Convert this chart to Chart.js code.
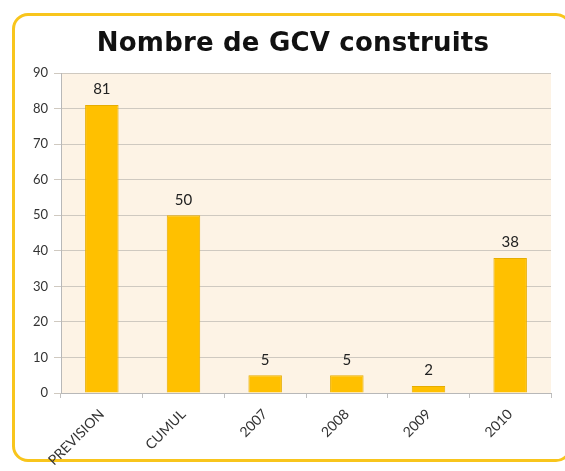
<!DOCTYPE html>
<html>
<head>
<meta charset="utf-8">
<script src="https://cdn.jsdelivr.net/npm/chart.js@4.4.1/dist/chart.umd.min.js"></script>
<style>
  html, body { margin: 0; padding: 0; background: #fff; }
  #wrap { position: relative; width: 565px; height: 471px; }
  #frame {
    position: absolute; left: 12px; top: 13px; width: 560px; height: 449px;
    border: 3px solid #f8c51c; border-radius: 16px; box-sizing: border-box;
  }
  #title {
    position: absolute; left: 0; top: 27px; width: 586px; text-align: center;
    font: bold 26px "DejaVu Sans"; color: #111; letter-spacing: 0.2px;
  }
  canvas { position: absolute; left: 0; top: 0; }
</style>
</head>
<body>
<div id="wrap">
  <div id="frame"></div>
  <canvas id="chart" width="565" height="471"></canvas>
  <div id="title"></div>
</div>
<script>
const categories = ["PREVISION", "CUMUL", "2007", "2008", "2009", "2010"];
const values = [81, 50, 5, 5, 2, 38];
const yTicks = [0, 10, 20, 30, 40, 50, 60, 70, 80, 90];
const title = "Nombre de GCV construits";

document.getElementById("title").textContent = title;

// cream background behind the plot
const plotBg = {
  id: "plotBg",
  beforeDraw(chart) {
    const { ctx, chartArea } = chart;
    ctx.save();
    ctx.fillStyle = "#fdf3e5";
    ctx.fillRect(chartArea.left, chartArea.top, chartArea.right - chartArea.left, chartArea.bottom - chartArea.top);
    ctx.restore();
  }
};

// value above each bar
const barLabels = {
  id: "barLabels",
  afterDatasetsDraw(chart) {
    const { ctx } = chart;
    const meta = chart.getDatasetMeta(0);
    ctx.save();
    ctx.font = "15px Lato";
    ctx.fillStyle = "#222";
    ctx.textAlign = "center";
    ctx.textBaseline = "bottom";
    meta.data.forEach((bar, i) => {
      ctx.fillText(values[i], bar.x, bar.y - 8);
    });
    ctx.restore();
  }
};

new Chart(document.getElementById("chart"), {
  type: "bar",
  data: {
    labels: categories,
    datasets: [{
      label: title,
      data: values,
      backgroundColor: "#ffc000",
      borderColor: "#e6ad00",
      borderWidth: 1,
      barPercentage: 0.41,
      categoryPercentage: 1
    }]
  },
  options: {
    responsive: false,
    animation: false,
    layout: { padding: { left: 0, right: 14, top: 73, bottom: 0 } },
    plugins: {
      legend: { display: false },
      tooltip: { enabled: false },
      title: { display: false }
    },
    scales: {
      x: {
        grid: { drawOnChartArea: false, color: "#c0c0c0", tickLength: 5 },
        border: { color: "#b8b8b8" },
        ticks: {
          color: "#333",
          font: { family: "Lato", size: 14 },
          minRotation: 45,
          maxRotation: 45,
          padding: 8
        },
        afterFit(scale) { scale.height = 78; }
      },
      y: {
        min: 0,
        max: 90,
        afterBuildTicks(scale) { scale.ticks = yTicks.map(v => ({ value: v })); },
        grid: { color: "#cfc9c0", tickLength: 7 },
        border: { color: "#b8b8b8" },
        ticks: {
          color: "#333",
          font: { family: "Lato", size: 13 },
          padding: 6
        },
        afterFit(scale) { scale.width = 61; }
      }
    }
  },
  plugins: [plotBg, barLabels]
});
</script>
</body>
</html>
